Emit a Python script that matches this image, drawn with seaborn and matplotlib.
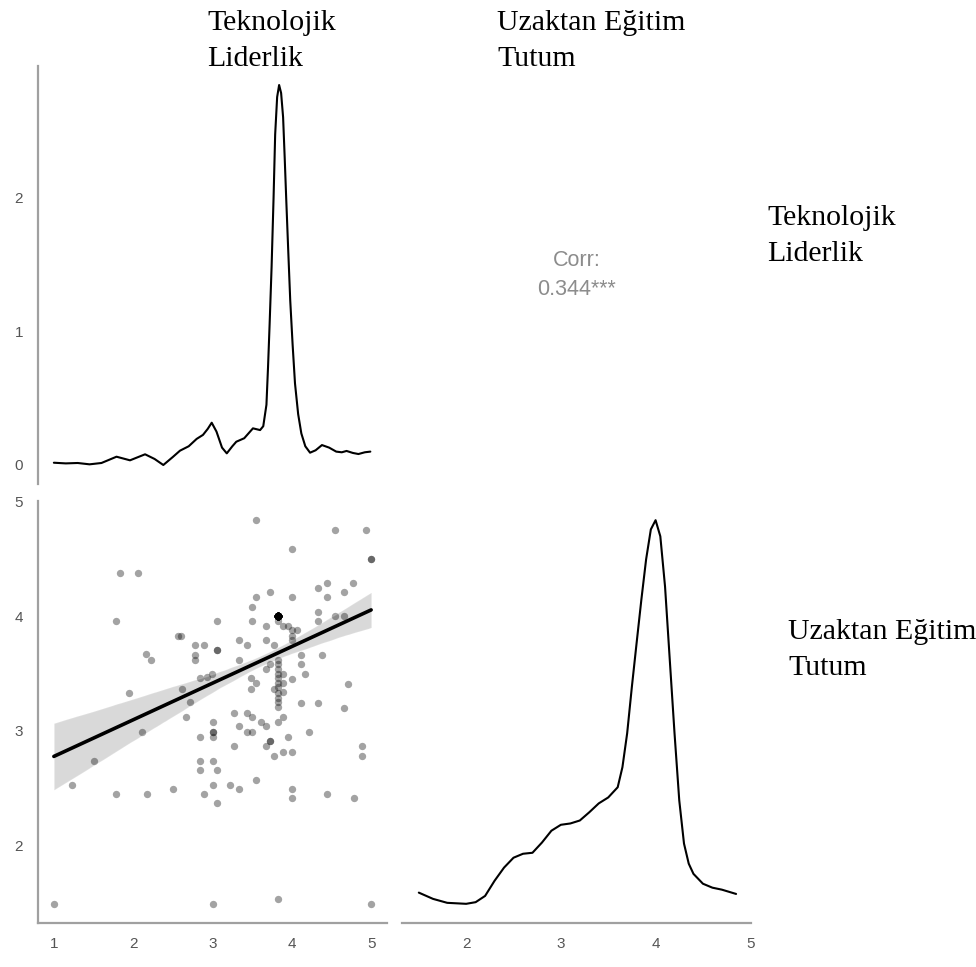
import matplotlib
matplotlib.use("Agg")
import matplotlib.pyplot as plt
import seaborn as sns
import numpy as np
import pandas as pd

# ---------------- data ----------------
# scatter: Teknolojik Liderlik (x) vs Uzaktan Eğitim Tutum (y), visible points
tl_scores = [
    3.55, 4.55, 4.94, 4.00, 5.00, 5.00, 1.83, 2.06, 4.33, 4.44,
    4.77, 4.66, 4.44, 3.72, 3.55, 4.00, 3.50, 1.78, 3.06, 3.50,
    3.67, 3.83, 3.83, 3.83, 3.83, 3.83, 3.83, 3.89, 3.95, 4.00,
    4.06, 4.33, 4.33, 4.55, 4.66, 2.56, 2.60, 2.78, 2.89, 2.78,
    2.78, 3.06, 3.06, 3.33, 3.44, 3.67, 3.78, 4.00, 4.00, 2.16,
    2.23, 3.33, 4.11, 4.38, 4.11, 4.17, 4.00, 3.67, 3.73, 3.83,
    3.83, 3.83, 3.83, 3.83, 3.83, 3.83, 3.83, 3.83, 3.83, 3.83,
    3.89, 3.89, 3.89, 3.49, 3.55, 3.49, 3.78, 4.71, 2.84, 2.93,
    2.99, 2.61, 1.95, 2.72, 4.11, 4.33, 4.66, 2.66, 3.27, 3.44,
    3.50, 3.61, 3.67, 3.83, 3.89, 3.00, 3.00, 3.00, 3.00, 2.84,
    2.11, 3.33, 3.44, 3.50, 4.22, 3.95, 3.73, 3.73, 3.67, 3.27,
    3.78, 3.89, 4.00, 4.89, 4.89, 1.50, 2.84, 3.00, 2.84, 3.06,
    3.55, 1.23, 1.78, 2.17, 2.50, 2.89, 3.00, 3.06, 3.22, 3.33,
    4.00, 4.00, 4.44, 4.78, 1.00, 3.00, 3.83, 5.00,
]
ue_scores = [
    4.84, 4.755, 4.755, 4.59, 4.50, 4.50, 4.38, 4.38, 4.25, 4.29,
    4.29, 4.21, 4.17, 4.21, 4.17, 4.17, 4.08, 3.96, 3.96, 3.96,
    3.92, 4.00, 4.00, 4.00, 4.00, 4.00, 3.96, 3.92, 3.92, 3.88,
    3.88, 4.04, 3.96, 4.00, 4.00, 3.83, 3.83, 3.75, 3.75, 3.66,
    3.62, 3.71, 3.71, 3.79, 3.75, 3.79, 3.75, 3.83, 3.79, 3.67,
    3.62, 3.62, 3.66, 3.66, 3.58, 3.50, 3.45, 3.54, 3.58, 3.62,
    3.58, 3.54, 3.50, 3.46, 3.42, 3.38, 3.33, 3.29, 3.25, 3.21,
    3.50, 3.42, 3.34, 3.46, 3.42, 3.37, 3.37, 3.41, 3.46, 3.47,
    3.50, 3.37, 3.33, 3.25, 3.24, 3.24, 3.20, 3.12, 3.16, 3.16,
    3.12, 3.08, 3.04, 3.08, 3.12, 3.08, 2.99, 2.99, 2.95, 2.95,
    2.99, 3.04, 2.99, 2.99, 2.99, 2.95, 2.91, 2.91, 2.87, 2.87,
    2.78, 2.82, 2.82, 2.87, 2.78, 2.74, 2.74, 2.74, 2.66, 2.66,
    2.57, 2.53, 2.45, 2.45, 2.49, 2.45, 2.53, 2.37, 2.53, 2.49,
    2.49, 2.41, 2.45, 2.41, 1.49, 1.49, 1.53, 1.49,
]
# the solid black clump near (3.83, 4.00) is many overplotted answers
stack_tl = [3.83]
stack_ue = [4.00]
stack_count = [90]

# density curve of Teknolojik Liderlik (diagonal, top-left)
tl_dens_x = [1.00, 1.15, 1.30, 1.45, 1.60, 1.79, 1.96, 2.15, 2.27, 2.38,
             2.50, 2.59, 2.70, 2.80, 2.88, 2.94, 2.99, 3.05, 3.12, 3.18,
             3.25, 3.30, 3.40, 3.51, 3.60, 3.64, 3.68, 3.70, 3.72, 3.745,
             3.77, 3.79, 3.815, 3.84, 3.865, 3.89, 3.91, 3.93, 3.955, 3.98,
             4.01, 4.04, 4.08, 4.12, 4.17, 4.23, 4.30, 4.38, 4.47, 4.56,
             4.63, 4.69, 4.77, 4.84, 4.92, 4.99]
tl_dens_y = [0.017, 0.012, 0.015, 0.005, 0.015, 0.062, 0.035, 0.080, 0.045, 0.000,
             0.060, 0.107, 0.140, 0.195, 0.225, 0.270, 0.316, 0.250, 0.130, 0.087,
             0.140, 0.174, 0.200, 0.274, 0.261, 0.290, 0.450, 0.730, 1.050, 1.480,
             2.000, 2.470, 2.750, 2.840, 2.780, 2.600, 2.300, 1.980, 1.600, 1.230,
             0.900, 0.610, 0.380, 0.236, 0.140, 0.092, 0.110, 0.149, 0.130, 0.100,
             0.095, 0.105, 0.090, 0.082, 0.095, 0.100]

# density curve of Uzaktan Eğitim Tutum (diagonal, bottom-right)
ue_dens_x = [1.50, 1.65, 1.80, 2.00, 2.10, 2.20, 2.30, 2.40, 2.50, 2.60,
             2.70, 2.80, 2.90, 3.00, 3.10, 3.20, 3.30, 3.40, 3.50, 3.60,
             3.65, 3.70, 3.75, 3.80, 3.85, 3.90, 3.95, 4.00, 4.05, 4.10,
             4.15, 4.20, 4.25, 4.30, 4.35, 4.40, 4.50, 4.60, 4.70, 4.85]
ue_dens_y = [0.084, 0.065, 0.053, 0.050, 0.055, 0.074, 0.120, 0.160, 0.190, 0.202,
             0.205, 0.236, 0.272, 0.290, 0.294, 0.303, 0.328, 0.355, 0.373, 0.404,
             0.465, 0.568, 0.710, 0.843, 0.974, 1.096, 1.187, 1.215, 1.166, 1.013,
             0.790, 0.568, 0.364, 0.233, 0.172, 0.141, 0.111, 0.099, 0.093, 0.080]

var_names = ["Teknolojik\nLiderlik", "Uzaktan Eğitim\nTutum"]
corr_label = "Corr:"
corr_value = "0.344***"

x_ticks_tl = [1, 2, 3, 4, 5]
y_ticks_ue = [2, 3, 4, 5]
x_ticks_ue = [2, 3, 4, 5]
y_ticks_dens = [0, 1, 2]

# ---------------- styling ----------------
sns.set_style("white")
plt.rcParams["font.family"] = ["Liberation Sans", "DejaVu Sans"]

W, H = 976, 967
fig = plt.figure(figsize=(W / 100, H / 100), dpi=100)

def axes_px(left, top, right, bottom):
    return fig.add_axes([left / W, 1 - bottom / H, (right - left) / W, (bottom - top) / H])

ax_tl = axes_px(38, 66, 387, 484)      # top-left density
ax_cor = axes_px(402, 66, 751, 484)    # top-right corr
ax_sc = axes_px(38, 501, 387, 923)     # bottom-left scatter
ax_ue = axes_px(402, 501, 751, 923)    # bottom-right density

def expand(vals):
    lo, hi = min(vals), max(vals)
    pad = 0.05 * (hi - lo)
    return lo - pad, hi + pad

spine_col = "#a0a0a0"
tick_kw = dict(direction="out", length=3.8, width=1.3, color="#333333",
               labelcolor="#555555", labelsize=11)

# top-left density
sns.lineplot(x=tl_dens_x, y=tl_dens_y, ax=ax_tl, color="black", linewidth=1.5,
             sort=False, estimator=None)
ax_tl.set_xlim(*expand(tl_scores))
ax_tl.set_ylim(*expand(tl_dens_y))
ax_tl.set_yticks(y_ticks_dens)
ax_tl.set_xticks([])
for s in ["top", "right", "bottom"]:
    ax_tl.spines[s].set_visible(False)
ax_tl.spines["left"].set_color(spine_col)
ax_tl.spines["left"].set_linewidth(1.6)
ax_tl.tick_params(axis="y", pad=7, **tick_kw)

# top-right correlation text
ax_cor.set_axis_off()
ax_cor.text(0.5, 0.5, corr_label + "\n" + corr_value, transform=ax_cor.transAxes,
            ha="center", va="center", fontsize=15.5, color="#8c8c8c", linespacing=1.45)

# bottom-left scatter + regression
df_visible = pd.DataFrame({"tl": tl_scores, "ue": ue_scores})
df_stack = pd.DataFrame({"tl": np.repeat(stack_tl, stack_count),
                         "ue": np.repeat(stack_ue, stack_count)})
df = pd.concat([df_visible, df_stack], ignore_index=True)
sns.scatterplot(data=df, x="tl", y="ue", ax=ax_sc, color="black", alpha=0.36,
                s=28, linewidth=0)
sns.regplot(data=df, x="tl", y="ue", ax=ax_sc, scatter=False, color="black",
            ci=78, seed=1, line_kws=dict(linewidth=2.6))
ax_sc.set_xlim(*expand(tl_scores))
ax_sc.set_ylim(*expand(ue_scores))
ax_sc.set_xticks(x_ticks_tl)
ax_sc.set_yticks(y_ticks_ue)
ax_sc.set_xlabel("")
ax_sc.set_ylabel("")
for s in ["top", "right"]:
    ax_sc.spines[s].set_visible(False)
for s in ["left", "bottom"]:
    ax_sc.spines[s].set_color(spine_col)
    ax_sc.spines[s].set_linewidth(1.6)
ax_sc.tick_params(axis="y", pad=7, **tick_kw)
ax_sc.tick_params(axis="x", pad=6, **tick_kw)

# bottom-right density
sns.lineplot(x=ue_dens_x, y=ue_dens_y, ax=ax_ue, color="black", linewidth=1.5,
             sort=False, estimator=None)
ax_ue.set_xlim(*expand(ue_scores))
ax_ue.set_ylim(*expand(ue_dens_y))
ax_ue.set_xticks(x_ticks_ue)
ax_ue.set_yticks([])
for s in ["top", "right", "left"]:
    ax_ue.spines[s].set_visible(False)
ax_ue.spines["bottom"].set_color(spine_col)
ax_ue.spines["bottom"].set_linewidth(1.6)
ax_ue.tick_params(axis="x", pad=6, **tick_kw)

# strip-like variable labels (serif, as in the reference)
lab_kw = dict(fontsize=21.5, family=["Liberation Serif", "DejaVu Serif"],
              color="black", ha="left", va="top", linespacing=1.5)
fig.text(207 / W, 1 - 10 / H, var_names[0], **lab_kw)
fig.text(497 / W, 1 - 10 / H, var_names[1], **lab_kw)
fig.text(767 / W, 1 - 205 / H, var_names[0], **lab_kw)
fig.text(788 / W, 1 - 619 / H, var_names[1], **lab_kw)

fig.savefig("out.png", dpi=100)
